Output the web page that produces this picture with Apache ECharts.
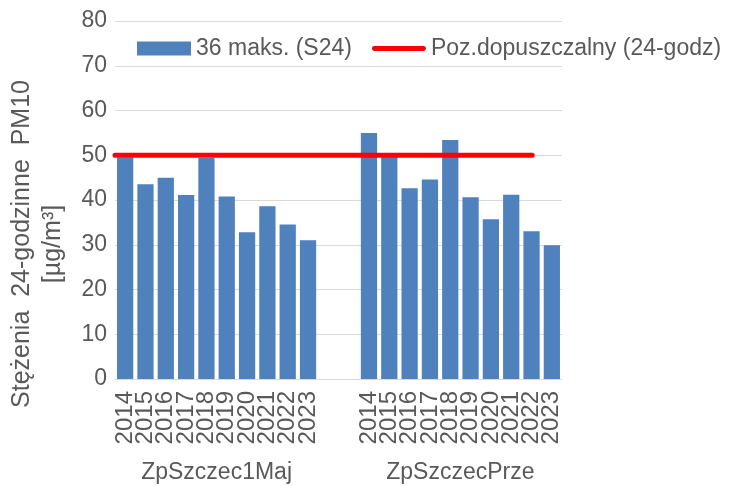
<!DOCTYPE html>
<html>
<head>
<meta charset="utf-8">
<script src="https://cdn.jsdelivr.net/npm/echarts@6/dist/echarts.min.js"></script>
<style>
  html, body { margin: 0; padding: 0; background: #fff; }
  #chart { width: 735px; height: 486px; }
</style>
</head>
<body>
<div id="chart"></div>
<script>
// dane
var years = ['2014', '2015', '2016', '2017', '2018', '2019', '2020', '2021', '2022', '2023'];
var stations = ['ZpSzczec1Maj', 'ZpSzczecPrze'];
var maj1Values = [49.5, 43.5, 45.0, 41.1, 49.4, 40.8, 32.8, 38.6, 34.5, 31.0];
var przeValues = [55.0, 49.6, 42.6, 44.6, 53.4, 40.6, 35.7, 41.2, 33.0, 29.9];
var limitValues = [50, 50, 50, 50, 50, 50, 50, 50, 50, 50, 50, 50, 50, 50, 50, null];
var yTicks = [0, 80, 10];

// oś kategorii: dwie grupy lat rozdzielone dwoma pustymi miejscami
var gap = ['', ''];
var categories = years.concat(gap, years);
var barData = maj1Values.concat([null, null], przeValues);
// druga oś: 11 pól po 2 kategorie, nazwy stacji na środkach grup
var groupAxis = ['', '', stations[0], '', '', '', '', '', stations[1], '', ''];
var limitAxis = limitValues.map(function (v, i) { return String(i); });

var font = 'Liberation Sans, Arial, sans-serif';
var textColor = '#595959';

var myChart = echarts.init(document.getElementById('chart'));
var option = {
    animation: false,
    textStyle: { fontFamily: font },
    grid: { left: 115, right: 173, top: 21, bottom: 107, outerBoundsMode: 'none', containLabel: false },
    legend: {
        left: 132,
        top: 32,
        itemWidth: 54,
        itemHeight: 14,
        itemGap: 20,
        textStyle: { fontSize: 23, color: textColor, fontFamily: font },
        data: [
            { name: '36 maks. (S24)', icon: 'rect' },
            { name: 'Poz.dopuszczalny (24-godz)', icon: 'path://M2.5,0H53.5A2.5,2.5,0,0,1,53.5,5H2.5A2.5,2.5,0,0,1,2.5,0Z' }
        ]
    },
    xAxis: [
        {
            type: 'category',
            data: categories,
            axisLine: { lineStyle: { color: '#d9d9d9', width: 1 } },
            axisTick: { show: false },
            axisLabel: {
                rotate: 90, interval: 0, margin: 12,
                fontSize: 24, color: textColor, fontFamily: font
            }
        },
        {
            type: 'category',
            position: 'bottom',
            offset: 76,
            data: groupAxis,
            axisLine: { show: false },
            axisTick: { show: false },
            axisLabel: { interval: 0, margin: 6, fontSize: 23, color: textColor, fontFamily: font }
        },
        {
            type: 'category',
            boundaryGap: false,
            show: false,
            data: limitAxis
        }
    ],
    yAxis: {
        type: 'value',
        min: yTicks[0],
        max: yTicks[1],
        interval: yTicks[2],
        axisLine: { show: false },
        axisTick: { show: false },
        splitLine: { lineStyle: { color: '#d9d9d9', width: 1 } },
        axisLabel: { margin: 8, fontSize: 23, color: textColor, fontFamily: font },
        name: 'Stężenia  24-godzinne  PM10\n[µg/m³]',
        nameLocation: 'middle',
        nameRotate: 90,
        nameGap: 46,
        nameTextStyle: {
            fontSize: 25, color: textColor, fontFamily: font,
            align: 'center', lineHeight: 31, padding: [0, 88, 0, 0]
        }
    },
    series: [
        {
            name: '36 maks. (S24)',
            type: 'bar',
            xAxisIndex: 0,
            data: barData,
            barCategoryGap: '20%',
            itemStyle: { color: '#4f81bd' }
        },
        {
            name: 'Poz.dopuszczalny (24-godz)',
            type: 'line',
            xAxisIndex: 2,
            data: limitValues,
            symbol: 'none',
            lineStyle: { color: '#ff0000', width: 5, cap: 'round' },
            itemStyle: { color: '#ff0000' }
        }
    ]
};
myChart.setOption(option);
</script>
</body>
</html>
